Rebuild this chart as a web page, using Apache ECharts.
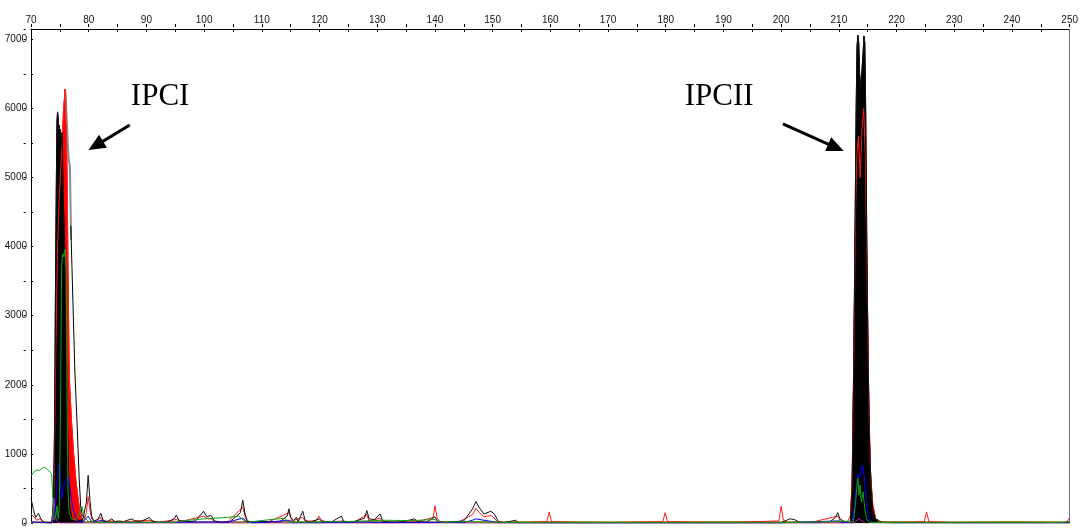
<!DOCTYPE html>
<html>
<head>
<meta charset="utf-8">
<script src="https://cdn.jsdelivr.net/npm/echarts@6/dist/echarts.min.js"></script>
<style>
  html, body { margin: 0; padding: 0; background: #fff; }
  #chart { width: 1081px; height: 528px; }
</style>
</head>
<body>
<div id="chart"></div>
<script>
// Fragment size axis (bp) and signal axis (RFU)
const sizeMin = 70, sizeMax = 250, sizeStep = 10;
const rfuMin = 0, rfuMax = 7150, rfuStep = 1000;

// Dye traces: [size, RFU]
const blackTrace = [
  [70,360],[70.4,200],[70.8,80],[71.3,140],[71.7,60],[72.2,10],[73.0,0],[73.6,0],
  [73.9,300],[74.1,1500],[74.25,3500],[74.4,5000],[74.5,5800],[74.6,5950],[74.7,5880],
  [74.8,5700],[74.9,5760],[75.0,5600],[75.1,5700],[75.25,5450],[75.4,5650],[75.55,4800],
  [75.7,4400],[75.85,3900],[76.0,3200],[76.15,2400],[76.3,1500],[76.5,700],[76.7,250],
  [77.0,80],[77.4,30],[78.0,20],[79.0,60],[79.3,80],[79.6,300],[79.9,690],[80.2,350],
  [80.5,100],[80.9,30],[81.6,50],[82.1,140],[82.5,40],[83.2,20],[84.0,60],[84.5,20],
  [85.3,30],[86,20],[87.5,60],[88,30],[89,20],[90.5,80],[91,30],[92,10],[93.5,10],
  [94.8,60],[95.2,115],[95.6,40],[96.5,30],[97.5,20],[98.5,30],[99.9,170],[100.5,90],
  [101.2,110],[101.8,30],[103,10],[104.5,20],[106.3,150],[106.7,330],[107.1,130],
  [107.5,20],[108.5,10],[110,20],[111.5,20],[113,10],[114.4,100],[114.7,205],[115.0,80],
  [115.5,40],[116,80],[116.3,20],[117.1,170],[117.5,40],[118.5,10],[119.9,60],[120.5,20],
  [122,10],[123.8,100],[124.2,20],[126,20],[127.8,70],[128.2,180],[128.6,60],[129.5,50],
  [130.5,130],[131,20],[133,10],[134.5,20],[136.5,60],[137,20],[138.5,10],[140,90],
  [140.5,20],[142,10],[143.5,20],[145,30],[146.5,200],[147.1,310],[147.7,220],
  [148.5,130],[149.7,170],[150.3,130],[151,20],[152,5],[154,40],[154.5,5],[158,5],
  [170,5],[190,5],[200,5],[201.5,60],[202.3,50],[203.2,10],[206,5],[208.5,20],
  [209.4,80],[209.8,150],[210.2,60],[211,20],[212.0,20],[212.3,500],[212.55,2000],
  [212.8,4200],[213.0,6000],[213.15,6900],[213.3,7060],[213.45,6950],[213.6,6500],
  [213.8,6300],[214.0,6550],[214.2,6800],[214.35,7050],[214.5,6950],[214.65,6000],
  [214.85,4000],[215.05,2500],[215.3,1200],[215.6,500],[215.9,180],[216.3,60],
  [216.8,40],[217.5,10],[220,5],[230,5],[240,5],[250,5]
];

// Outer edge of the first size-standard peak (overlaid runs)
const blackShoulder = [
  [76.9,4300],[77.1,3700],[77.6,2200],[78.0,1400],[78.35,650],[78.6,250],[78.9,100],[79.3,80]
];
const grayShoulder = [
  [75.95,6250],[76.2,5800],[76.5,5300],[76.75,5150],[76.85,4600],[76.95,4100]
];

const redTrace = [
  [70,130],[70.5,90],[71,40],[71.5,60],[72,20],[72.5,10],[73.3,0],[73.7,0],[74.0,500],
  [74.3,2500],[74.6,4000],[74.9,4700],[75.2,5200],[75.45,5600],[75.65,6000],[75.8,6150],
  [75.9,6280],[76.0,6200],[76.1,5800],[76.25,5100],[76.4,3800],[76.55,2700],[76.65,2090],
  [77.0,1500],[77.4,1000],[77.8,600],[78.2,330],[78.5,170],[78.8,60],[79.2,40],[79.6,150],
  [79.9,380],[80.2,200],[80.5,60],[81,20],[82.1,80],[82.5,20],[84,30],[86,10],[88,30],
  [90.5,40],[92,10],[95.2,50],[96,20],[99.9,100],[100.7,60],[101.2,60],[102,10],[104,10],
  [106.7,230],[107.2,60],[108,10],[111,10],[114.7,150],[115.2,30],[117.1,80],[117.6,20],
  [119.5,40],[119.9,100],[120.3,40],[121.5,10],[124,30],[126,10],[128.2,120],[128.6,30],
  [130.5,70],[131,10],[134,10],[137,20],[139.7,80],[140.0,250],[140.4,70],[141,10],
  [144,10],[146.5,120],[147.1,210],[147.8,140],[148.5,90],[149.7,110],[150.4,60],[151,10],
  [155,5],[159.4,20],[159.8,160],[160.2,20],[165,5],[170,5],[179.5,20],[179.9,150],
  [180.3,20],[190,5],[199.6,30],[200.0,240],[200.4,40],[201,10],[205,5],[209.8,100],
  [210.3,20],[211.5,20],[212.0,100],[212.3,600],[212.6,2500],[212.9,4500],[213.1,5300],
  [213.4,5600],[213.7,5000],[214.0,5700],[214.3,6000],[214.6,5300],[214.9,3500],
  [215.2,1700],[215.5,700],[215.9,250],[216.4,60],[217,10],[220,5],[224.8,20],
  [225.2,160],[225.6,20],[230,5],[240,5],[249,5],[249.6,30],[250,80]
];

const blueTrace = [
  [70,20],[71,10],[72,5],[73.5,5],[74.0,60],[74.3,300],[74.6,650],[74.9,870],[75.1,600],
  [75.3,350],[75.6,500],[76.0,600],[76.5,690],[76.9,400],[77.3,200],[77.8,80],[78.2,20],
  [79,15],[79.9,100],[80.4,30],[81,10],[82.1,40],[83,8],[85,5],[90,5],[95,10],
  [100,15],[101,15],[104,10],[106.7,70],[107.5,10],[110,5],[114.7,40],[115.5,5],
  [120,5],[128,15],[130,5],[140,10],[145,5],[146.5,40],[147.1,60],[148.5,40],
  [150,20],[151,3],[160,2],[200,2],[209.8,30],[210.5,3],[212.3,20],[212.7,250],
  [213.0,500],[213.3,700],[213.6,650],[213.9,780],[214.1,840],[214.35,700],[214.6,450],
  [214.9,200],[215.3,60],[215.8,5],[220,2],[250,2]
];

const greenTrace = [
  [70,680],[70.5,740],[71,770],[71.5,760],[72.2,805],[72.7,790],[73.0,770],[73.4,730],
  [73.6,700],[73.8,300],[74.0,40],[74.3,100],[74.5,250],[74.7,60],[74.9,200],[75.1,1500],
  [75.3,3700],[75.5,3900],[75.7,3850],[75.9,3960],[76.1,3700],[76.25,1800],[76.4,500],
  [76.6,150],[77.0,60],[77.6,40],[78.2,100],[78.8,245],[79.3,80],[80,20],[82,10],
  [85,10],[90,10],[95,10],[96,30],[100,60],[104,80],[106,100],[106.5,60],[107.5,5],
  [108.3,20],[111,45],[114,70],[114.5,20],[116,10],[124,20],[128,30],[131,40],[136,35],
  [140,50],[141,10],[146,20],[151,10],[160,5],[200,5],[209,20],[210,30],[212.5,20],
  [212.9,300],[213.1,500],[213.3,650],[213.5,400],[213.7,550],[213.9,300],[214.2,450],
  [214.5,200],[214.8,60],[215.2,10],[220,5],[245,5],[249,10],[250,20]
];

const magentaTrace = [
  [73.7,0],[74.0,360],[74.2,100],[74.5,20],[75,0],[212.5,0],[213.5,60],[214.5,0]
];

const oliveTrace = [
  [70,10],[80,15],[90,10],[100,12],[110,15],[120,10],[130,15],[140,10],[150,10],
  [160,15],[170,10],[180,12],[190,15],[200,10],[210,10],[220,15],[230,10],[240,15],[250,10]
];

// Peak labels and arrows [size, RFU]
const peakLabels = ['IPCI', 'IPCII'];
const labelAnchors = [[87.3, 6170], [183.3, 6170]];
const arrowLines = [
  [[87.12, 5761], [81.22, 5462]],
  [[200.3, 5776], [209.5, 5434]]
];

// Size-standard peak windows that are drawn filled
const peakWindows = [[73.5, 79], [211.8, 217.2]];
const inWindow = ([lo, hi]) => p => p[0] >= lo && p[0] <= hi;

const chart = echarts.init(document.getElementById('chart'), null, { renderer: 'canvas' });

const lineSeries = (name, data, color, width, z, extra) => Object.assign({
  name, type: 'line', data, symbol: 'none', showSymbol: false, silent: true,
  animation: false, z, lineStyle: { color, width }, itemStyle: { color }
}, extra || {});

const fillSeries = (name, trace, color, z) => peakWindows.map((w, i) =>
  lineSeries(name + i, trace.filter(inWindow(w)), color, 1, z,
    { areaStyle: { color, opacity: 1 } }));

const labelFont = { fontSize: 10, color: '#111', fontFamily: 'Liberation Sans, Arial, sans-serif' };
const tickStyle = { color: '#000', width: 1 };

chart.setOption({
  backgroundColor: '#fff',
  animation: false,
  grid: { left: 31, right: 6, top: 29, bottom: 3, containLabel: false },
  xAxis: [
    {
      type: 'value', position: 'top', min: sizeMin, max: sizeMax, interval: sizeStep,
      axisLine: { show: true, onZero: false, lineStyle: { color: '#000', width: 1 } },
      axisTick: { show: true, inside: true, length: 3, lineStyle: tickStyle },
      minorTick: { show: true, splitNumber: 2, length: 3, lineStyle: tickStyle },
      axisLabel: Object.assign({ margin: 4 }, labelFont),
      splitLine: { show: false }
    },
    {
      type: 'value', position: 'bottom', offset: -496, min: sizeMin, max: sizeMax, interval: sizeStep,
      axisLine: { show: false, onZero: false },
      axisTick: { show: true, inside: true, length: 3, lineStyle: tickStyle },
      minorTick: { show: true, splitNumber: 2, length: 3, lineStyle: tickStyle },
      axisLabel: { show: false },
      splitLine: { show: false }
    }
  ],
  yAxis: [
    {
      type: 'value', position: 'left', min: rfuMin, max: rfuMax, interval: rfuStep,
      axisLine: { show: true, onZero: false, lineStyle: { color: '#000', width: 1 } },
      axisTick: { show: true, inside: true, length: 2, lineStyle: tickStyle },
      minorTick: { show: true, splitNumber: 2, length: 2, lineStyle: tickStyle },
      axisLabel: Object.assign({
        margin: 4,
        formatter: v => (v % rfuStep === 0 ? String(v) : '')
      }, labelFont),
      splitLine: { show: false }
    },
    {
      type: 'value', position: 'right', offset: -1044, min: rfuMin, max: rfuMax, interval: rfuStep,
      axisLine: { show: false, onZero: false },
      axisTick: { show: true, inside: true, length: 2, lineStyle: tickStyle },
      minorTick: { show: true, splitNumber: 2, length: 2, lineStyle: tickStyle },
      axisLabel: { show: false },
      splitLine: { show: false }
    }
  ],
  series: [
    lineSeries('oliveBase', oliveTrace, '#a0822c', 2, 1),
    ...fillSeries('redFill', redTrace, '#ff0000', 2),
    ...fillSeries('blackFill', blackTrace, '#000000', 3),
    lineSeries('grayShoulder', grayShoulder, '#8a8a8a', 2, 4),
    lineSeries('blackShoulder', blackShoulder, '#000000', 1, 4),
    lineSeries('red', redTrace, '#ff1a1a', 1, 5),
    lineSeries('black', blackTrace, '#111111', 1, 6),
    lineSeries('magenta', magentaTrace, '#c020c0', 1, 7),
    lineSeries('blue', blueTrace, '#0000ff', 1, 8),
    lineSeries('green', greenTrace, '#10a010', 1, 9, {
      markLine: {
        silent: true, animation: false, symbol: 'none',
        lineStyle: { color: '#707070', width: 1, type: 'solid' },
        label: { show: false },
        data: [{ xAxis: sizeMax }]
      }
    }),
    lineSeries('annotations', [], '#000', 3, 10, {
      markLine: {
        silent: true, animation: false,
        symbol: ['none', 'triangle'], symbolSize: [15, 17],
        lineStyle: { color: '#000', width: 3, type: 'solid' },
        label: { show: false },
        data: arrowLines.map(([a, b]) => [{ coord: a }, { coord: b }])
      },
      markPoint: {
        silent: true, animation: false, symbol: 'circle', symbolSize: 0,
        label: {
          show: true, position: 'right', distance: 0,
          fontFamily: 'Liberation Serif, Times New Roman, serif',
          fontSize: 31, color: '#000',
          formatter: p => p.name
        },
        data: peakLabels.map((name, i) => ({ name, coord: labelAnchors[i] }))
      }
    })
  ]
});
</script>
</body>
</html>
